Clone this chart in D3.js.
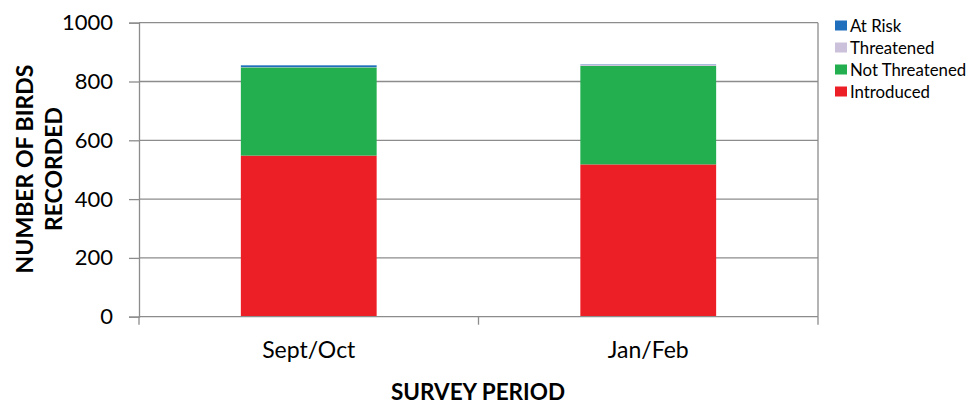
<!DOCTYPE html>
<html><head><meta charset="utf-8">
<script src="https://cdn.jsdelivr.net/npm/d3@7"></script>
<style>
body{margin:0;background:#fff;}
svg{display:block;font-family:Lato,"Open Sans",sans-serif;}
</style></head>
<body><svg id="c" width="973" height="406"></svg>
<script>
const categories = ["Sept/Oct", "Jan/Feb"];
const seriesNames = ["Introduced", "Not Threatened", "Threatened", "At Risk"];
const introduced = [548, 518];
const notThreatened = [300, 335];
const threatened = [1, 5];
const atRisk = [6, 1];
const yTicks = [0, 200, 400, 600, 800, 1000];
const colors = ["#ed1f26", "#23af4f", "#ccc1da", "#1f6fbd"];

const seriesValues = [introduced, notThreatened, threatened, atRisk];
const rows = categories.map((c, i) => {
  const r = {cat: c};
  seriesNames.forEach((s, j) => r[s] = seriesValues[j][i]);
  return r;
});

const svg = d3.select("#c");
const m = {l: 139, r: 818, t: 22.7, b: 316.7};
const x = d3.scaleBand().domain(categories).range([m.l, m.r]).paddingInner(0.6).paddingOuter(0.3);
const y = d3.scaleLinear().domain([0, 1000]).range([m.b, m.t]);

// gridlines
svg.append("g").selectAll("line").data(yTicks.filter(d => d > 0)).join("line")
  .attr("x1", m.l).attr("x2", m.r)
  .attr("y1", d => y(d)).attr("y2", d => y(d))
  .attr("stroke", "#8c8c8c").attr("stroke-width", 1.3);
// right border
svg.append("line").attr("x1", m.r).attr("x2", m.r).attr("y1", m.t).attr("y2", m.b)
  .attr("stroke", "#8c8c8c").attr("stroke-width", 1.3);

const stack = d3.stack().keys(seriesNames);
const stacked = stack(rows);
svg.append("g").selectAll("g").data(stacked).join("g")
  .attr("fill", (d, i) => colors[i])
  .selectAll("rect").data(d => d).join("rect")
  .attr("x", d => x(d.data.cat))
  .attr("width", x.bandwidth())
  .attr("y", d => y(d[1]))
  .attr("height", d => y(d[0]) - y(d[1]));

// y axis
const ya = svg.append("g").attr("transform", `translate(${m.l},0)`)
  .call(d3.axisLeft(y).tickValues(yTicks).tickSize(10).tickPadding(16).tickFormat(d3.format("d")));
ya.selectAll("path,line").attr("stroke", "#8c8c8c").attr("stroke-width", 1.3);
ya.selectAll("text").attr("font-size", 22).attr("fill", "#000").attr("font-family", "Lato");

// x axis
const xb = d3.scaleLinear().domain([0, categories.length]).range([m.l, m.r]);
const xa = svg.append("g").attr("transform", `translate(0,${m.b})`);
xa.append("line").attr("x1", m.l).attr("x2", m.r).attr("stroke", "#8c8c8c").attr("stroke-width", 1.3);
xa.selectAll(".tk").data(d3.range(categories.length + 1)).join("line")
  .attr("x1", d => xb(d)).attr("x2", d => xb(d)).attr("y1", 0).attr("y2", 8)
  .attr("stroke", "#8c8c8c").attr("stroke-width", 1.3);
xa.selectAll("text").data(categories).join("text")
  .attr("x", d => x(d) + x.bandwidth() / 2).attr("y", 41.5)
  .attr("text-anchor", "middle").attr("font-size", 23).attr("fill", "#000")
  .text(d => d);

// axis titles
svg.append("text").attr("x", 478).attr("y", 400).attr("text-anchor", "middle")
  .attr("font-size", 22.5).attr("font-weight", "bold").text("SURVEY PERIOD");
const yt = svg.append("text").attr("transform", "translate(0,169) rotate(-90)")
  .attr("text-anchor", "middle").attr("font-size", 23).attr("font-weight", "bold");
yt.append("tspan").attr("x", 0).attr("y", 33).text("NUMBER OF BIRDS");
yt.append("tspan").attr("x", 0).attr("y", 62).text("RECORDED");

// legend
const legendOrder = [3, 2, 1, 0];
const lg = svg.append("g").attr("transform", "translate(835,25.5)");
const li = lg.selectAll("g").data(legendOrder).join("g")
  .attr("transform", (d, i) => `translate(0,${i * 22})`);
li.append("rect").attr("width", 12).attr("height", 10).attr("y", -5).attr("fill", d => colors[d]);
li.append("text").attr("x", 15).attr("y", 6).attr("font-size", 16.8).attr("fill", "#000")
  .text(d => seriesNames[d]);
</script></body></html>
